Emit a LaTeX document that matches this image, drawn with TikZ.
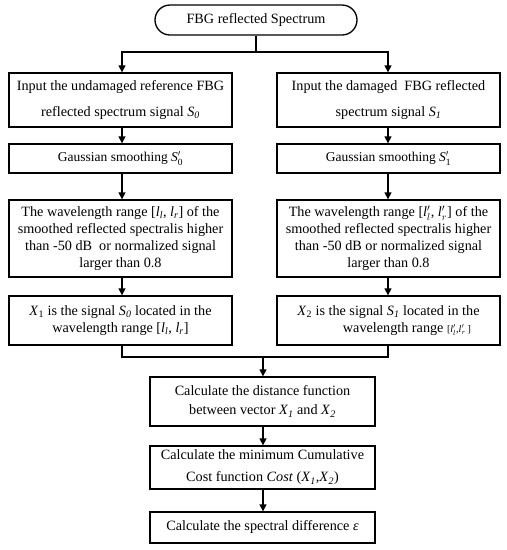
\documentclass[tikz,border=0pt]{standalone}
\usepackage{fontspec}
\setmainfont{Liberation Serif}
\usetikzlibrary{arrows.meta}
\newcommand{\isub}[1]{\textsubscript{\textit{#1}}}
\newcommand{\pr}[2]{\textit{#1}$^{\prime}_{\mathrm{#2}}$}
\newcommand{\prl}[2]{\textit{#1}$^{\prime}_{#2}$}
\begin{document}
\begin{tikzpicture}[x=1pt,y=-1pt,
  box/.style={draw,line width=1.3pt,align=center,inner sep=0pt,font=\fontsize{14.2}{17}\selectfont},
  arr/.style={line width=1.3pt,-{Triangle[length=7pt,width=7pt]}},
  ln/.style={line width=1.3pt}]
\useasboundingbox (0,0) rectangle (507,550);
% nodes
\node[box,rounded corners=15pt,minimum width=202pt,minimum height=30pt] (start) at (256,20) {FBG reflected Spectrum};
\node[box,minimum width=223pt,minimum height=54pt,font=\fontsize{14.2}{26}\selectfont] (L1) at (120.5,100)
  {Input the undamaged reference FBG\\reflected spectrum signal \textit{S}\isub{0}};
\node[box,minimum width=223pt,minimum height=54pt,font=\fontsize{14.2}{26}\selectfont] (R1) at (388.5,100)
  {Input the damaged\ \ FBG reflected\\spectrum signal \textit{S}\isub{1}};
\node[box,minimum width=223pt,minimum height=29pt,font=\fontsize{13.5}{17}\selectfont] (L2) at (120.5,158.5) {Gaussian smoothing \pr{S}{0}};
\node[box,minimum width=223pt,minimum height=29pt,font=\fontsize{13.5}{17}\selectfont] (R2) at (388.5,158.5) {Gaussian smoothing \pr{S}{1}};
\node[box,minimum width=223pt,minimum height=77pt] (L3) at (120.5,238.5)
  {The wavelength range [\textit{l}\isub{l}, \textit{l}\isub{r}] of the\\smoothed reflected spectralis higher\\than -50 dB\ \ or normalized signal\\larger than 0.8};
\node[box,minimum width=223pt,minimum height=77pt] (R3) at (388.5,238.5)
  {The wavelength range [\prl{l}{l}, \prl{l}{r}] of the\\smoothed reflected spectralis higher\\than -50 dB or normalized signal\\larger than 0.8};
\node[box,minimum width=223pt,minimum height=49pt] (L4) at (120.5,320.5)
  {\textit{X}\textsubscript{1} is the signal \textit{S}\isub{0} located in the\\wavelength range [\textit{l}\isub{l}, \textit{l}\isub{r}]};
\node[box,minimum width=223pt,minimum height=49pt] (R4) at (388.5,320.5)
  {\textit{X}\textsubscript{2} is the signal \textit{S}\isub{1} located in the\\\hspace*{2.6em}wavelength range {\fontsize{10}{12}\selectfont[\prl{l}{l},\prl{l}{r}\,]}};
\node[box,minimum width=225pt,minimum height=49pt,font=\fontsize{14.2}{19}\selectfont] (C5) at (262.5,401.5)
  {Calculate the distance function\\between vector \textit{X}\isub{1} and \textit{X}\isub{2}};
\node[box,minimum width=225pt,minimum height=43pt,font=\fontsize{14.2}{22}\selectfont] (C6) at (262.5,467.5)
  {Calculate the minimum Cumulative\\Cost function \textit{Cost} (\textit{X}\isub{1},\textit{X}\isub{2})};
\node[box,minimum width=225pt,minimum height=31pt] (C7) at (262.5,527.5)
  {Calculate the spectral difference \textit{ε}};
% connectors
\coordinate (sp) at (256,52);
\coordinate (lt) at (122,52);
\coordinate (rt) at (388,52);
\draw[ln] (start.south) -- (sp);
\draw[arr] (sp) -- (lt) -- (L1.north -| lt);
\draw[arr] (sp) -- (rt) -- (R1.north -| rt);
\draw[arr] (L1.south -| lt) -- (L2.north -| lt);
\draw[arr] (R1.south -| rt) -- (R2.north -| rt);
\draw[arr] (L2.south -| lt) -- (L3.north -| lt);
\draw[arr] (R2.south -| rt) -- (R3.north -| rt);
\draw[arr] (L3.south -| lt) -- (L4.north -| lt);
\draw[arr] (R3.south -| rt) -- (R4.north -| rt);
\coordinate (ml) at (122,357);
\coordinate (mr) at (388,357);
\coordinate (mc) at (263,357);
\draw[ln] (L4.south -| ml) -- (ml) -- (mr) -- (R4.south -| mr);
\draw[arr] (mc) -- (C5.north -| mc);
\draw[arr] (C5.south -| mc) -- (C6.north -| mc);
\draw[arr] (C6.south -| mc) -- (C7.north -| mc);
\end{tikzpicture}
\end{document}
